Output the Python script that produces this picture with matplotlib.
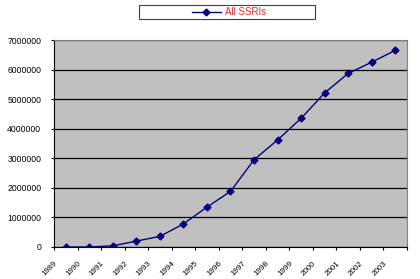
import matplotlib
matplotlib.use('Agg')
import matplotlib.pyplot as plt
import matplotlib.patches as mpatches
import matplotlib.transforms as mtransforms
import numpy as np

years = ['1989', '1990', '1991', '1992', '1993', '1994', '1995', '1996',
         '1997', '1998', '1999', '2000', '2001', '2002', '2003']
ssris = [0, 0, 40000, 200000, 360000, 780000, 1350000, 1880000,
         2950000, 3620000, 4350000, 5210000, 5870000, 6250000, 6650000]

plt.rcParams['font.family'] = 'Liberation Sans'

fig = plt.figure(figsize=(4.2, 2.79), dpi=100)
ax = fig.add_axes([54 / 420, 1 - 247 / 279, 353 / 420, 207 / 279])
ax.set_facecolor('#c0c0c0')

x = np.arange(len(years))
line, = ax.plot(x, ssris, color='#000080', marker='D', markersize=3.5, linewidth=1,
                label='All SSRIs', zorder=3)

ax.set_xlim(-0.5, len(years) - 0.5)
ax.set_ylim(0, 7000000)
ax.set_yticks(np.arange(0, 7000001, 1000000))
ax.set_yticklabels([str(v) for v in range(0, 7000001, 1000000)])
ax.grid(axis='y', color='black', linewidth=0.9)
ax.set_axisbelow(True)

ax.set_xticks(x)
ax.set_xticklabels(years, rotation=45, ha='right', rotation_mode='anchor')
ax.set_xticks(np.arange(-0.5, len(years)), minor=True)
ax.tick_params(axis='x', which='major', length=0, labelsize=5.8, pad=0)
ax.tick_params(axis='x', which='minor', length=2.5, width=0.8, color='black')
ax.tick_params(axis='y', length=2.2, width=0.8, labelsize=6.2, pad=7)

# shift rotated year labels like the spreadsheet layout
shift = mtransforms.ScaledTranslation(-12 / 100, -13 / 100, fig.dpi_scale_trans)
for lab in ax.get_xticklabels():
    lab.set_transform(lab.get_transform() + shift)

ax.spines['top'].set_color('#808080')
ax.spines['right'].set_color('#808080')
ax.spines['left'].set_color('black')
ax.spines['bottom'].set_color('black')

# legend box above the plot
box = mpatches.Rectangle((139 / 420, 1 - 19 / 279), 176 / 420, 14 / 279,
                         transform=fig.transFigure, facecolor='white',
                         edgecolor='#404040', linewidth=0.8)
fig.patches.append(box)
leg = fig.legend(handles=[line], loc='center', bbox_to_anchor=(0.545, 1 - 12 / 279),
                 frameon=False, fontsize=7, handlelength=3, handletextpad=0.4,
                 borderpad=0)
for t in leg.get_texts():
    t.set_color('#ff2020')

fig.savefig('out.png', dpi=100)
